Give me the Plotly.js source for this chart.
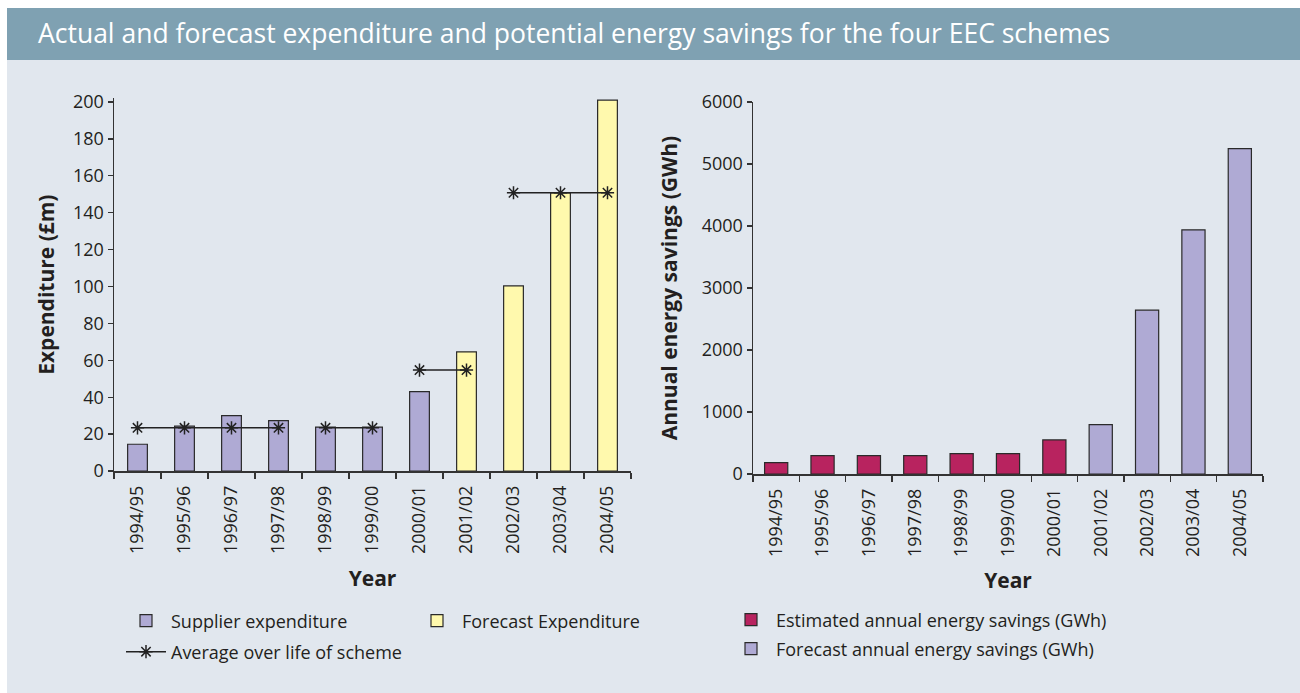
<!DOCTYPE html>
<html>
<head>
<meta charset="utf-8">
<script src="https://cdn.plot.ly/plotly-3.0.1.min.js"></script>
<style>html,body{margin:0;padding:0;background:#fff;}#chart{width:1300px;height:693px;}</style>
</head>
<body>
<div id="chart"></div>
<script>
// ---- data ----
const years = ["1994/95","1995/96","1996/97","1997/98","1998/99","1999/00","2000/01","2001/02","2002/03","2003/04","2004/05"];
const supplierExpenditure = [14.5, 24.3, 30.0, 27.3, 23.8, 23.8, 43.0, null, null, null, null];
const forecastExpenditure = [null, null, null, null, null, null, null, 64.6, 100.3, 150.7, 201.0];
// average over life of each of the four schemes
const scheme1Years = ["1994/95","1995/96","1996/97","1997/98"];
const scheme1Avg = [23.4, 23.4, 23.4, 23.4];
const scheme2Years = ["1998/99","1999/00"];
const scheme2Avg = [23.4, 23.4];
const scheme3Years = ["2000/01","2001/02"];
const scheme3Avg = [54.7, 54.7];
const scheme4Years = ["2002/03","2003/04","2004/05"];
const scheme4Avg = [150.8, 150.8, 150.8];
const estimatedSavings = [183, 296, 296, 296, 328, 328, 549, null, null, null, null];
const forecastSavings = [null, null, null, null, null, null, null, 796, 2642, 3939, 5247];

// ---- styles ----
const FONT = '"Open Sans", Lato, sans-serif';
const TXT = '#231f20';
const PURPLE = '#afaad4';
const YELLOW = '#fff9ad';
const MAGENTA = '#b8235f';
const OUTLINE = {color: '#2a2a2a', width: 1.2};
const W = 1300, H = 693;
const px = v => v / W;
const py = v => 1 - v / H;

const avgStyle = {
  type: 'scatter', mode: 'lines+markers', xaxis: 'x', yaxis: 'y',
  line: {color: '#222', width: 1.5},
  marker: {symbol: 'asterisk-open', size: 11, line: {color: '#222', width: 1.5}, color: '#222'},
  legend: 'legend3', name: 'Average over life of scheme', legendgroup: 'avg', cliponaxis: false
};

const traces = [
  {type: 'bar', x: years, y: supplierExpenditure, name: 'Supplier expenditure', xaxis: 'x', yaxis: 'y',
   width: 0.42, marker: {color: PURPLE, line: OUTLINE}, legend: 'legend', showlegend: true},
  {type: 'bar', x: years, y: forecastExpenditure, name: 'Forecast Expenditure', xaxis: 'x', yaxis: 'y',
   width: 0.42, marker: {color: YELLOW, line: OUTLINE}, legend: 'legend2', showlegend: true},
  Object.assign({}, avgStyle, {x: scheme1Years, y: scheme1Avg, showlegend: true}),
  Object.assign({}, avgStyle, {x: scheme2Years, y: scheme2Avg, showlegend: false}),
  Object.assign({}, avgStyle, {x: scheme3Years, y: scheme3Avg, showlegend: false}),
  Object.assign({}, avgStyle, {x: scheme4Years, y: scheme4Avg, showlegend: false}),
  {type: 'bar', x: years, y: estimatedSavings, name: 'Estimated annual energy savings (GWh)', xaxis: 'x2', yaxis: 'y2',
   width: 0.5, marker: {color: MAGENTA, line: OUTLINE}, legend: 'legend4', showlegend: true},
  {type: 'bar', x: years, y: forecastSavings, name: 'Forecast annual energy savings (GWh)', xaxis: 'x2', yaxis: 'y2',
   width: 0.5, marker: {color: PURPLE, line: OUTLINE}, legend: 'legend5', showlegend: true}
];

const xCommon = {
  type: 'category', tickangle: -90, ticks: 'outside', tickson: 'boundaries', ticklen: 6,
  tickcolor: '#333', tickwidth: 1.3, showline: true, linecolor: '#333', linewidth: 1.5,
  showgrid: false, zeroline: false, tickfont: {family: FONT, size: 18, color: TXT},
  ticklabelstandoff: 6, fixedrange: true, range: [-0.5, 10.5], autorange: false
};
const yCommon = {
  ticks: 'outside', ticklen: 5, tickcolor: '#333', tickwidth: 1.3, showline: true, linecolor: '#333', linewidth: 1.5,
  showgrid: false, zeroline: false, tickfont: {family: FONT, size: 18, color: TXT}, fixedrange: true
};
const titleFont = {family: FONT, size: 21, color: TXT};
const legFont = {family: FONT, size: 18, color: TXT};
const legBase = {visible: true, orientation: 'v', xanchor: 'left', yanchor: 'middle', bgcolor: 'rgba(0,0,0,0)', font: legFont, itemwidth: 40};

const layout = {
  width: W, height: H,
  margin: {l: 0, r: 0, t: 0, b: 0},
  paper_bgcolor: '#ffffff', plot_bgcolor: 'rgba(0,0,0,0)',
  barmode: 'overlay',
  showlegend: true,
  title: {text: 'Actual and forecast expenditure and potential energy savings for the four EEC schemes',
          x: px(38), xanchor: 'left', xref: 'paper', y: py(34), yanchor: 'middle', yref: 'paper',
          font: {family: FONT, size: 26.5, color: '#ffffff'}},
  shapes: [
    {type: 'rect', xref: 'paper', yref: 'paper', x0: px(7), x1: 1, y0: 0, y1: py(8), fillcolor: '#e1e7ee', line: {width: 0}, layer: 'below'},
    {type: 'rect', xref: 'paper', yref: 'paper', x0: px(7), x1: 1, y0: py(60), y1: py(8), fillcolor: '#7fa1b2', line: {width: 0}, layer: 'below'}
  ],
  xaxis: Object.assign({}, xCommon, {domain: [px(114), px(631)], anchor: 'y',
    title: {text: '<b>Year</b>', font: titleFont, standoff: 18}}),
  yaxis: Object.assign({}, yCommon, {domain: [py(471), py(471 - 202 * 1.845)], anchor: 'x', range: [0, 202],
    tickvals: [0,20,40,60,80,100,120,140,160,180,200],
    title: {text: '<b>Expenditure (£m)</b>', font: titleFont, standoff: 12}}),
  xaxis2: Object.assign({}, xCommon, {domain: [px(753), px(1263)], anchor: 'y2',
    title: {text: '<b>Year</b>', font: titleFont, standoff: 17}}),
  yaxis2: Object.assign({}, yCommon, {domain: [py(474), py(102)], anchor: 'x2', range: [0, 6000],
    tickvals: [0,1000,2000,3000,4000,5000,6000],
    title: {text: '<b>Annual energy savings (GWh)</b>', font: titleFont, standoff: 18}}),
  legend: Object.assign({}, legBase, {x: px(121), y: py(621)}),
  legend2: Object.assign({}, legBase, {x: px(412), y: py(621)}),
  legend3: Object.assign({}, legBase, {x: px(121), y: py(652)}),
  legend4: Object.assign({}, legBase, {x: px(726), y: py(620)}),
  legend5: Object.assign({}, legBase, {x: px(726), y: py(649)})
};

Plotly.newPlot('chart', traces, layout, {displayModeBar: false, staticPlot: true});
</script>
</body>
</html>
